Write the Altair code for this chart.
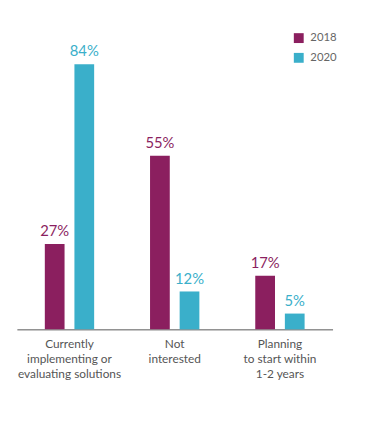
import altair as alt
import pandas as pd

categories = ["Currently|implementing or|evaluating solutions", "Not|interested", "Planning|to start within|1-2 years"]
years = ["2018", "2020"]
values_2018 = [27, 55, 17]
values_2020 = [84, 12, 5]
colors = ["#8B1F5F", "#3AAFCA"]

rows = []
for c, a, b in zip(categories, values_2018, values_2020):
    rows.append({"cat": c, "year": "2018", "v": a, "lbl": f"{a}%"})
    rows.append({"cat": c, "year": "2020", "v": b, "lbl": f"{b}%"})
df = pd.DataFrame(rows)

FONT = "Lato"

x = alt.X("cat:N", sort=categories, title=None,
          scale=alt.Scale(paddingInner=0, paddingOuter=0),
          axis=alt.Axis(labelAngle=0, labelExpr="split(datum.label, '|')",
                        labelFontSize=12, labelColor="#555555", labelFont=FONT,
                        labelLineHeight=15.5, labelPadding=9, ticks=False,
                        domainColor="#555555", domainWidth=1, labelBaseline="top"))
xo = alt.XOffset("year:N", scale=alt.Scale(paddingInner=1/3, paddingOuter=0.944))
y = alt.Y("v:Q", scale=alt.Scale(domain=[0, 90]), axis=None)
color = alt.Color("year:N", scale=alt.Scale(domain=years, range=colors),
                  legend=alt.Legend(title=None, orient="none", legendX=280, legendY=-13,
                                    symbolType="square", symbolSize=100, symbolStrokeWidth=0,
                                    labelFontSize=11.5, labelColor="#666666", labelFont=FONT,
                                    rowPadding=7, labelOffset=6))

bars = alt.Chart(df).mark_bar().encode(x=x, xOffset=xo, y=y, color=color)
text = alt.Chart(df).mark_text(baseline="bottom", dy=-5, fontSize=15, font=FONT).encode(
    x=x, xOffset=xo, y=y, text="lbl:N", color=alt.Color("year:N", scale=alt.Scale(domain=years, range=colors), legend=None))

chart = (bars + text).properties(
    width=320, height=288,
    background="white",
    autosize=alt.AutoSizeParams(type="none"),
    padding={"left": 9, "top": 35, "right": 40, "bottom": 80},
).configure_view(stroke=None)

chart.save("out.html", embed_options={"renderer": "svg", "actions": False})
